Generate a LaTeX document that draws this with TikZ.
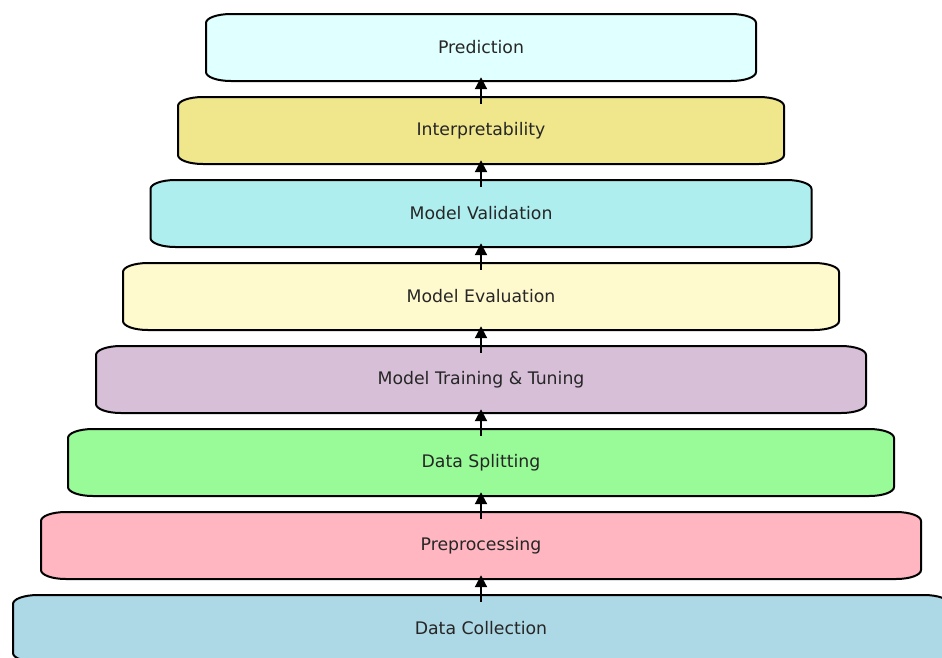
\documentclass[tikz,border=0pt]{standalone}
\usepackage{fontspec}
\setmainfont{DejaVu Sans}
\usetikzlibrary{arrows.meta,calc}
\definecolor{cPred}{HTML}{E0FFFF}
\definecolor{cInt}{HTML}{F0E68C}
\definecolor{cVal}{HTML}{AFEEEE}
\definecolor{cEva}{HTML}{FFFACD}
\definecolor{cTra}{HTML}{D8BFD8}
\definecolor{cSpl}{HTML}{98FB98}
\definecolor{cPre}{HTML}{FFB6C1}
\definecolor{cCol}{HTML}{ADD8E6}
\definecolor{txt}{HTML}{262626}
\tikzset{
  boxline/.style={draw=black, line width=2pt, line join=round},
  lbl/.style={inner sep=0pt, text=txt, font=\fontsize{17.3}{20}\selectfont},
  flow/.style={draw=black, line width=2pt, -{Triangle[length=12pt,width=12pt]}}
}
% \stagebox{name}{center y}{half width}{colour}{text}
\newcommand{\stagebox}[5]{%
  \pgfmathsetmacro{\xl}{481-#3}\pgfmathsetmacro{\xr}{481+#3}%
  \pgfmathsetmacro{\yt}{#2-33.5}\pgfmathsetmacro{\yb}{#2+33.5}%
  \path[boxline, fill=#4]
    (\xl+25, \yt) -- (\xr-25, \yt)
    .. controls (\xr-11, \yt) and (\xr, \yt+4) .. (\xr, \yt+9)
    -- (\xr, \yb-9)
    .. controls (\xr, \yb-4) and (\xr-11, \yb) .. (\xr-25, \yb)
    -- (\xl+25, \yb)
    .. controls (\xl+11, \yb) and (\xl, \yb-4) .. (\xl, \yb-9)
    -- (\xl, \yt+9)
    .. controls (\xl, \yt+4) and (\xl+11, \yt) .. (\xl+25, \yt) -- cycle;
  \node[lbl, minimum width=2*#3, minimum height=67] (#1) at (481,#2) {#5};
}
\begin{document}
\begin{tikzpicture}[x=1pt,y=-1pt]
\useasboundingbox (0,0) rectangle (942,657);
\clip (0,0) rectangle (942,657);
\stagebox{pred}{47.5}{275}{cPred}{Prediction}
\stagebox{intp}{130.5}{303}{cInt}{Interpretability}
\stagebox{valid}{213.5}{330.5}{cVal}{Model Validation}
\stagebox{evalu}{296.5}{358}{cEva}{Model Evaluation}
\stagebox{train}{379.5}{385}{cTra}{Model Training \& Tuning}
\stagebox{split}{462.5}{413}{cSpl}{Data Splitting}
\stagebox{prep}{545.5}{440}{cPre}{Preprocessing}
\stagebox{coll}{628.5}{468}{cCol}{Data Collection}
\foreach \lo/\hi in {intp/pred, valid/intp, evalu/valid, train/evalu, split/train, prep/split, coll/prep}{
  \draw[flow] ($(\lo.north)+(0,7)$) -- ($(\hi.south)+(0,-4)$);
}
\end{tikzpicture}
\end{document}
